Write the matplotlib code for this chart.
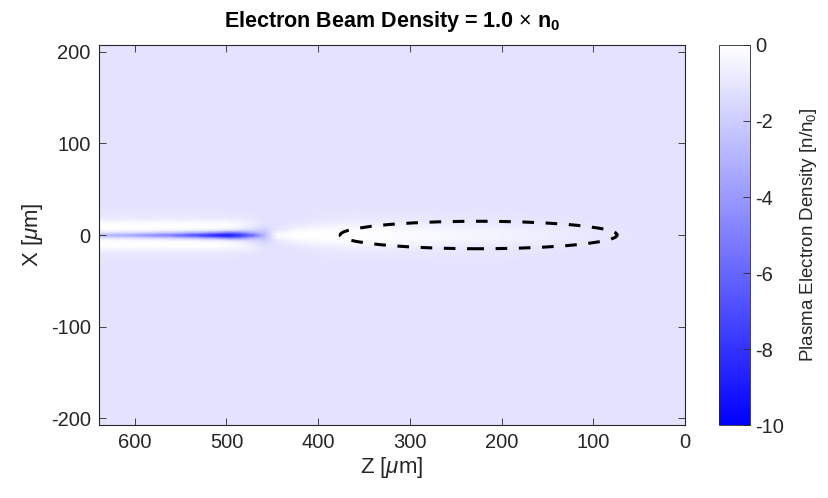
import numpy as np
import matplotlib
matplotlib.use("Agg")
from matplotlib import pyplot as plt
from matplotlib.colors import LinearSegmentedColormap, Normalize
from matplotlib.patches import Ellipse

plt.rcParams['font.family'] = ['Liberation Sans', 'DejaVu Sans']
plt.rcParams['mathtext.fontset'] = 'custom'
plt.rcParams['mathtext.rm'] = 'Liberation Sans'
plt.rcParams['mathtext.it'] = 'Liberation Sans:italic'
plt.rcParams['mathtext.bf'] = 'Liberation Sans:bold'
plt.rcParams['axes.unicode_minus'] = False

# sample positions of the density map (um)
z_um = [0, 60, 100, 150, 200, 250, 300, 340, 375, 400, 425, 445,
        458, 470, 485, 497, 510, 530, 560, 600, 640]
x_half_um = [0, 1.5, 3, 5, 7, 10, 13, 16, 20, 26, 35, 60, 207]

# plasma electron density perturbation [n/n0], one row per z, x >= 0
density_half = [
    [-1.1, -1.1, -1.1, -1.1, -1.1, -1.1, -1.1, -1.1, -1.1, -1.1, -1.1, -1.1, -1.1],
    [-1.05, -1.05, -1.05, -1.06, -1.07, -1.08, -1.1, -1.1, -1.1, -1.1, -1.1, -1.1, -1.1],
    [-0.9, -0.9, -0.9, -0.95, -1.0, -1.0, -1.05, -1.1, -1.1, -1.1, -1.1, -1.1, -1.1],
    [-0.65, -0.65, -0.67, -0.7, -0.75, -0.85, -0.95, -1.0, -1.05, -1.1, -1.1, -1.1, -1.1],
    [-0.45, -0.45, -0.47, -0.5, -0.6, -0.7, -0.85, -0.95, -1.0, -1.05, -1.1, -1.1, -1.1],
    [-0.3, -0.3, -0.32, -0.38, -0.48, -0.6, -0.75, -0.9, -1.0, -1.05, -1.1, -1.1, -1.1],
    [-0.15, -0.15, -0.17, -0.25, -0.35, -0.5, -0.7, -0.85, -0.95, -1.05, -1.1, -1.1, -1.1],
    [-0.05, -0.05, -0.07, -0.12, -0.22, -0.4, -0.6, -0.8, -0.95, -1.05, -1.1, -1.1, -1.1],
    [0.0, 0.0, -0.02, -0.08, -0.18, -0.38, -0.6, -0.8, -0.95, -1.05, -1.1, -1.1, -1.1],
    [0.0, 0.0, -0.03, -0.1, -0.25, -0.5, -0.75, -0.9, -1.0, -1.05, -1.1, -1.1, -1.1],
    [0.0, -0.02, -0.08, -0.25, -0.5, -0.8, -0.95, -1.05, -1.1, -1.1, -1.1, -1.1, -1.1],
    [-0.2, -0.3, -0.5, -0.8, -1.0, -1.05, -1.1, -1.1, -1.1, -1.1, -1.1, -1.1, -1.1],
    [-2.6, -2.5, -2.3, -2.0, -1.7, -1.35, -1.15, -1.1, -1.1, -1.1, -1.1, -1.1, -1.1],
    [-5.5, -4.5, -3.0, -1.9, -1.3, -0.9, -0.75, -0.85, -1.0, -1.1, -1.1, -1.1, -1.1],
    [-7.8, -6.7, -4.6, -2.1, -0.8, -0.35, -0.35, -0.65, -0.95, -1.1, -1.1, -1.1, -1.1],
    [-8.8, -7.8, -5.0, -1.8, -0.5, -0.1, -0.2, -0.55, -0.9, -1.05, -1.1, -1.1, -1.1],
    [-8.5, -7.0, -4.0, -1.3, -0.35, -0.05, -0.15, -0.5, -0.9, -1.05, -1.1, -1.1, -1.1],
    [-7.0, -5.5, -3.0, -1.0, -0.25, 0.0, -0.1, -0.5, -0.9, -1.05, -1.1, -1.1, -1.1],
    [-5.0, -3.8, -2.0, -0.7, -0.15, 0.0, -0.1, -0.5, -0.9, -1.05, -1.1, -1.1, -1.1],
    [-3.5, -2.6, -1.4, -0.45, -0.08, 0.0, -0.1, -0.5, -0.9, -1.05, -1.1, -1.1, -1.1],
    [-2.6, -1.9, -1.0, -0.3, -0.03, 0.0, -0.1, -0.5, -0.9, -1.05, -1.1, -1.1, -1.1],
]

# drive beam outline: centre (z, x) and full extent (um)
beam_center = (225, 0)
beam_size = (302, 30)

z_ticks = [600, 500, 400, 300, 200, 100, 0]
x_ticks = [-200, -100, 0, 100, 200]
cbar_ticks = [0, -2, -4, -6, -8, -10]

# field is symmetric in x, mirror the half table
xh = np.array(x_half_um)
x_full = np.concatenate([-xh[::-1], xh[1:]])
dh = np.array(density_half)
density = np.concatenate([dh[:, ::-1], dh[:, 1:]], axis=1)

cmap = LinearSegmentedColormap.from_list('white_blue', [(0, 0, 1), (1, 1, 1)])
norm = Normalize(vmin=-10, vmax=0)

fig = plt.figure(figsize=(8.29, 4.98), dpi=100)
ax = fig.add_axes([99 / 829, 73 / 498, 586 / 829, 380 / 498])

ax.pcolormesh(z_um, x_full, density.T, cmap=cmap, norm=norm, shading='gouraud')

ax.add_patch(Ellipse(beam_center, beam_size[0], beam_size[1], fill=False,
                     edgecolor='black', linewidth=2.2,
                     linestyle=(0, (3.8, 3.8))))

ax.set_xlim(639, 0)
ax.set_ylim(-207.5, 207.5)
ax.set_xticks(z_ticks)
ax.set_yticks(x_ticks)

dark = '#262626'
for s in ax.spines.values():
    s.set_color(dark)
    s.set_linewidth(0.8)
ax.tick_params(direction='in', length=5, width=0.6, color=dark,
               labelcolor=dark, labelsize=14.5, top=True, right=True, pad=6)

ax.set_xlabel(r'Z [$\mu$m]', fontsize=16, color=dark, labelpad=2)
ax.set_ylabel(r'X [$\mu$m]', fontsize=16, color=dark, labelpad=4)
ax.set_title(r'Electron Beam Density = 1.0 $\times$ n$_\mathbf{0}$',
             fontsize=15.5, fontweight='bold', pad=13)

cax = fig.add_axes([719 / 829, 73 / 498, 31 / 829, 380 / 498])
sm = plt.cm.ScalarMappable(norm=norm, cmap=cmap)
cb = fig.colorbar(sm, cax=cax, ticks=cbar_ticks)
cb.outline.set_edgecolor(dark)
cb.outline.set_linewidth(0.6)
cax.tick_params(direction='in', length=5, width=0.6, color=dark,
                labelcolor=dark, labelsize=14.5)
cb.set_label(r'Plasma Electron Density [n/n$_0$]', fontsize=13.5, color=dark,
             labelpad=10)

fig.savefig('out.png', dpi=100)
